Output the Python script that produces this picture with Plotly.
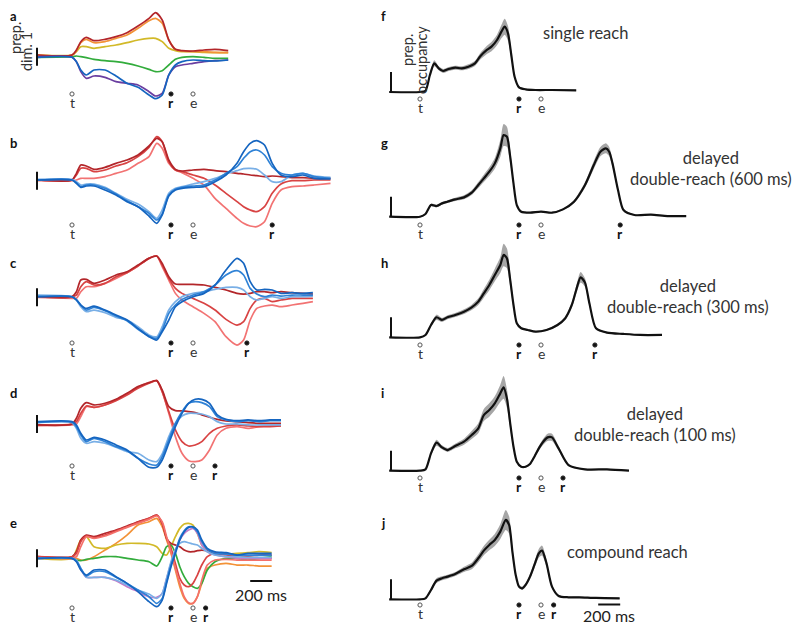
import plotly.graph_objects as go

PAGE_OFFSET = 8           # default body margin of the html page
W, H = 792, 617           # figure size that fills the 800 x 625 window
PX_PER_MS = 0.11          # horizontal scale: 200 ms = 22 px
PX_PER_UNIT = 10 / 3      # vertical scale of the a.u. values below
FONT = "Lato"

# ------------------------------------------------------------
# event times (ms from target onset)
# ------------------------------------------------------------
T_TARGET = 0
T_REACH = 900
T_END = 1100
T_REACH2 = {"600": 1820, "300": 1590, "100": 1300, "compound": 1215}

# ------------------------------------------------------------
# left column: projections on prep. dim. 1 (a.u.)
# ------------------------------------------------------------
t_a = [-310, 0, 40, 80, 130, 200, 300, 400, 500, 600, 700, 760, 820, 880, 940, 1000, 1100, 1200, 1300, 1420]
a_darkred = [0.3, 0.3, 1.8, 4.3, 5.6, 4.6, 5.0, 5.8, 7.0, 9.0, 11.3, 13.0, 10.8, 4.8, 2.0, 1.6, 1.5, 1.8, 2.0, 1.6]
a_orange = [0.3, 0.2, 1.6, 4.0, 5.0, 4.0, 4.3, 5.3, 6.3, 8.3, 10.6, 11.3, 9.8, 4.8, 2.0, 1.5, 1.3, 1.3, 1.1, 1.0]
a_yellow = [0.3, 0.3, 1.3, 2.8, 2.8, 2.3, 2.8, 3.3, 4.0, 4.8, 5.3, 5.3, 4.3, 2.3, 1.6, 1.3, 1.3, 1.1, 1.0, 1.0]
a_green = [-0.4, -0.2, 0, -0.2, -0.5, -1.0, -1.4, -1.7, -2.2, -3.0, -4.0, -4.7, -4.4, -2.7, -1.0, -0.4, -0.2, -0.4, -0.7, -0.7]
a_purple = [-0.2, -0.4, -1.7, -4.7, -6.7, -6.0, -6.4, -7.7, -8.2, -8.7, -10.7, -12.0, -11.2, -5.7, -3.2, -2.7, -2.2, -1.7, -1.4, -1.2]
a_blue = [-0.4, -0.4, -1.7, -4.2, -5.7, -4.2, -4.2, -6.0, -8.2, -9.4, -11.7, -12.8, -11.7, -5.7, -2.7, -1.7, -1.2, -1.4, -1.5, -1.2]

t_b = [-310, 0, 40, 80, 130, 200, 300, 400, 500, 600, 700, 770, 820, 880, 940, 1000, 1100, 1200, 1300, 1400,
       1500, 1560, 1620, 1680, 1750, 1820, 1900, 2000, 2100, 2200, 2350]
b_darkred = [0, 0, 2.0, 4.5, 4.2, 3.2, 3.8, 5.0, 6.0, 7.5, 10.2, 12.5, 11.5, 6.0, 3.2, 2.7, 3.0, 3.2, 2.8, 2.5,
             2.0, 1.8, 1.5, 1.3, 1.0, 1.2, 1.0, 0.7, 0.7, 0.5, 0.5]
b_red = [0, 0, 1.5, 3.5, 3.5, 2.5, 3.0, 4.2, 5.2, 7.0, 9.8, 13.0, 11.5, 5.5, 3.0, 2.5, 1.5, 0.5, -1.5, -4.0,
         -6.5, -8.0, -9.0, -9.5, -8.0, -4.0, -1.2, -0.2, -0.2, 0, 0]
b_lightred = [-0.2, -0.2, 0, 0.5, 0.5, 0.5, 1.0, 2.0, 3.0, 5.0, 7.0, 11.0, 9.5, 5.0, 3.0, 2.2, 0.5, -1.5, -5.5, -8.5,
              -11.5, -13.0, -13.8, -14.0, -12.5, -7.0, -3.0, -2.0, -1.8, -1.5, -1.0]
b_darkblue = [0, 0, -1.0, -2.2, -1.8, -1.8, -3.0, -4.5, -6.5, -8.0, -10.8, -13.0, -10.5, -4.8, -3.0, -2.5, -2.2, -2.0, -0.5, 1.5,
              5.0, 8.5, 11.0, 11.8, 10.5, 5.0, 1.5, 1.0, 1.5, 0.5, 0.3]
b_blue = [0, 0, -0.8, -2.0, -1.5, -1.5, -2.5, -4.2, -6.2, -8.0, -10.0, -12.0, -10.2, -4.5, -2.8, -2.2, -1.8, -1.5, 0, 2.0,
          4.0, 6.5, 8.5, 9.0, 7.5, 4.0, 2.0, 1.5, 2.0, 1.0, 0.5]
b_lightblue = [0.2, 0.2, -0.5, -1.5, -1.2, -1.2, -2.2, -4.0, -5.8, -7.2, -9.5, -11.5, -9.0, -4.0, -2.5, -2.0, -1.2, -0.5, 0.5, 1.8,
               2.8, 3.4, 3.5, 3.2, 1.5, -0.5, -0.5, 1.5, 2.0, 1.2, 0.8]

t_c = [-310, 0, 40, 80, 130, 200, 300, 400, 500, 600, 700, 770, 820, 880, 940, 1000, 1100, 1200, 1300, 1400,
       1500, 1560, 1620, 1680, 1750, 1820, 1900, 2000, 2100, 2190]
c_darkred = [0, 0, 1.5, 5.0, 5.2, 4.0, 5.0, 6.5, 7.5, 9.5, 11.5, 12.2, 10.0, 6.0, 3.8, 3.7, 3.7, 3.5, 2.8, 2.0,
             1.0, 0.8, 1.0, 1.5, 1.5, 1.2, 1.5, 1.2, 1.0, 0.8]
c_red = [0, 0, 0.5, 3.0, 4.5, 3.5, 4.0, 6.0, 7.2, 9.2, 11.5, 12.2, 9.5, 5.5, 2.5, 1.0, -0.5, -2.0, -4.0, -6.8,
         -8.5, -7.5, -3.5, -1.0, -0.5, -1.5, -1.0, -0.5, -0.5, -0.5]
c_lightred = [-0.2, -0.5, -0.5, 1.5, 3.0, 3.0, 4.0, 5.5, 7.2, 9.2, 11.5, 12.2, 9.0, 5.0, 1.0, -1.0, -3.0, -5.0, -7.5, -12.0,
              -14.5, -13.0, -7.0, -3.5, -2.8, -2.5, -3.0, -2.5, -2.0, -1.5]
c_darkblue = [0, 0, -1.0, -2.5, -3.5, -2.8, -4.0, -5.5, -7.0, -9.5, -12.0, -13.0, -10.5, -7.0, -3.0, -1.5, 0, 1.0, 3.5, 8.0,
              11.5, 10.0, 4.5, 2.0, 2.2, 2.0, 1.0, 1.2, 1.0, 1.2]
c_blue = [0, 0, -0.8, -2.5, -4.0, -3.2, -4.2, -5.8, -7.2, -9.8, -11.8, -12.5, -10.0, -5.0, -2.5, -0.8, 0.5, 1.5, 3.5, 6.5,
          7.8, 6.5, 2.5, 0.8, 0, 0.5, 0.2, 0.5, 0.5, 0.5]
c_lightblue = [0.5, 0, -1.0, -3.0, -4.5, -4.0, -4.8, -6.2, -7.0, -9.0, -11.5, -12.0, -9.0, -4.0, -1.5, 0, 1.0, 1.5, 2.2, 2.8,
               2.8, 2.0, 0, -1.0, -0.5, 0, -0.5, 0, 0, 0.2]

t_d = [-310, 0, 40, 80, 130, 200, 300, 400, 500, 600, 700, 770, 820, 880, 940, 1000, 1060, 1120, 1180, 1250,
       1320, 1400, 1500, 1600, 1700, 1800, 1900]
d_darkred = [-0.5, -0.2, 1.5, 4.5, 6.2, 5.5, 6.0, 7.2, 9.0, 11.0, 12.2, 12.8, 10.0, 5.0, 3.8, 3.7, 3.5, 3.2, 2.5, 1.8,
             1.2, 0.7, 0.5, 0.2, 0, 0, 0]
d_red = [-0.5, -0.2, 0.5, 3.0, 5.2, 4.8, 5.5, 6.8, 8.5, 10.5, 12.0, 12.8, 9.5, 3.5, -2.0, -5.5, -6.8, -6.5, -5.5, -3.0,
         -1.5, -0.8, -0.5, -0.8, -1.0, -1.0, -0.8]
d_lightred = [-0.7, -0.5, -0.2, 2.0, 5.0, 4.8, 5.5, 7.0, 8.8, 10.8, 12.2, 12.8, 9.5, 3.0, -4.0, -9.0, -11.2, -11.5, -11.0, -8.0,
              -3.5, -1.5, -1.0, -1.5, -1.0, -0.8, -0.8]
d_darkblue = [0.5, 0.5, -0.5, -3.0, -5.0, -4.2, -5.0, -6.5, -8.0, -10.5, -13.2, -13.2, -11.0, -6.0, -1.0, 3.0, 6.0, 7.2, 7.2, 6.0,
              2.5, 1.2, 0.8, 1.0, 0.8, 1.0, 1.0]
d_blue = [0.3, 0.3, -1.0, -3.5, -5.5, -4.5, -5.5, -7.0, -8.2, -10.5, -12.2, -12.5, -10.0, -5.0, 0, 3.5, 6.0, 6.5, 6.2, 5.0,
          2.0, 1.0, 0.5, 0.8, 0.5, 0.8, 0.8]
d_lightblue = [0.2, 0.2, -1.5, -4.5, -6.0, -5.5, -6.0, -7.2, -8.5, -9.0, -11.0, -11.5, -9.2, -4.0, 0, 2.2, 3.0, 3.0, 2.8, 2.0,
               0.5, -0.2, -0.2, -0.5, -0.5, -0.5, -0.5]

t_e = [-310, 0, 40, 80, 130, 200, 300, 400, 500, 600, 700, 770, 820, 860, 900, 940, 980, 1020, 1060, 1100,
       1140, 1180, 1230, 1300, 1400, 1500, 1600, 1700, 1815]
e_darkred = [0.3, 0.3, 1.8, 5.3, 6.8, 6.3, 7.3, 8.3, 9.5, 10.8, 11.8, 12.8, 10.3, 5.8, 4.3, 3.8, 3.3, 2.3, 1.8, 1.8,
             2.1, 2.3, 2.1, 1.5, 1.1, 0.8, 0.5, 0.8, 0.8]
e_red = [0.3, 0.3, 1.3, 4.8, 6.5, 6.0, 6.8, 8.1, 9.3, 10.6, 11.8, 12.8, 10.3, 5.8, 2.8, -1.7, -6.2, -8.2, -8.7, -7.7,
         -5.2, -2.2, 0.3, 1.3, 0.8, 0.5, 0.1, -0.2, -0.2]
e_salmon = [0, -0.2, 0.3, 3.3, 6.3, 5.8, 6.5, 7.8, 9.1, 10.3, 11.5, 12.5, 10.8, 6.3, 1.8, -3.2, -7.7, -11.7, -13.5, -13.7,
            -11.7, -6.7, -2.2, -0.7, -0.5, -0.7, -0.7, -0.7, -0.7]
e_orange = [-0.2, -0.2, -0.2, -0.7, -0.7, 0.3, 2.3, 4.3, 6.8, 9.8, 10.8, 11.8, 9.3, 5.3, 1.3, -3.7, -8.7, -12.2, -13.7, -13.7,
            -11.7, -7.7, -3.2, -2.2, -1.7, -2.2, -2.2, -2.5, -2.5]
e_yellow = [-0.2, -0.2, 2.3, 5.3, 6.3, 3.3, 2.8, 3.8, 4.3, 4.3, 4.1, 3.3, 1.3, 0.8, 3.3, 6.3, 8.8, 10.1, 10.3, 9.8,
            7.3, 3.8, 2.3, 1.3, 1.1, 1.3, 1.5, 1.8, 1.5]
e_green = [-0.2, -0.2, -0.7, -0.9, -0.5, -0.2, 0.3, 0.3, -0.2, -0.7, -1.2, -2.5, 0.3, 3.3, 3.8, 1.3, -2.7, -5.7, -7.7, -8.7,
           -9.2, -7.7, -3.7, -1.2, -0.2, -0.2, -0.7, -0.2, 0.3]
e_orchid = [-0.2, -0.2, -0.9, -3.5, -5.9, -5.9, -5.9, -6.9, -8.7, -10.2, -11.7, -11.9, -10.7, -6.2, -1.7, 2.3, 5.3, 7.3, 8.3, 8.8,
            7.3, 3.8, 1.8, 0.8, 0.3, -0.2, -0.2, -0.2, -0.2]
e_lightblue = [-0.2, -0.2, -0.7, -3.2, -5.9, -5.9, -5.9, -6.7, -8.2, -9.7, -10.9, -12.2, -10.7, -6.2, -1.2, 2.3, 4.3, 4.8, 4.5, 4.1,
               3.8, 2.8, 1.8, 0.8, 0.3, 0.3, 0.1, 0.1, 0.1]
e_blue = [-0.2, -0.2, -1.0, -3.2, -5.5, -4.2, -4.2, -5.9, -7.7, -9.7, -11.7, -13.7, -12.2, -7.2, -2.2, 1.8, 5.8, 8.1, 9.3, 9.1,
          7.8, 4.8, 2.5, 1.3, 1.1, 0.8, 0.8, 0.8, 0.8]
e_darkblue = [-0.2, -0.2, -1.2, -3.7, -5.2, -3.7, -3.7, -5.7, -7.7, -10.2, -13.2, -14.7, -12.7, -7.7, -2.7, 1.3, 5.3, 7.8, 9.1, 9.3,
              8.3, 5.3, 2.8, 1.8, 1.5, 0.8, 1.3, 1.3, 1.3]

# ------------------------------------------------------------
# right column: prep. occupancy, mean and s.e.m. (a.u.)
# ------------------------------------------------------------
t_f = [-280, 0, 50, 90, 130, 170, 210, 260, 320, 380, 440, 500, 550, 600, 650, 700, 740, 770, 800, 830,
       860, 900, 960, 1050, 1200, 1420]
f_mean = [0, 0, 0.4, 5.1, 8.6, 7.1, 6.3, 6.9, 7.3, 7.1, 7.6, 8.6, 10.8, 12.4, 13.6, 15.6, 18.1, 19.6, 17.6, 11.1,
          4.6, 1.4, 0.8, 0.6, 0.6, 0.5]
f_sem = [0.1, 0.1, 0.2, 0.6, 0.9, 0.6, 0.6, 0.6, 0.6, 0.6, 0.7, 0.8, 1.0, 1.2, 1.4, 1.6, 2.0, 2.4, 2.2, 1.2,
         0.6, 0.3, 0.2, 0.2, 0.2, 0.2]

t_g = [-280, 0, 50, 100, 150, 200, 250, 320, 400, 470, 530, 580, 630, 680, 730, 760, 790, 820, 850, 880,
       920, 1000, 1100, 1200, 1300, 1400, 1500, 1580, 1640, 1690, 1720, 1750, 1800, 1850, 1950, 2100, 2250, 2420]
g_mean = [0, 0, 0.8, 3.5, 3.2, 4.0, 4.5, 5.2, 5.8, 7.2, 9.5, 11.5, 13.5, 16.0, 20.5, 24.5, 24.0, 18.0, 10.0, 3.5,
          1.5, 1.2, 1.5, 1.2, 2.2, 4.5, 9.5, 15.5, 19.5, 20.5, 19.5, 16.0, 8.0, 2.0, 0.5, 0.6, 0.2, 0.2]
g_sem = [0.1, 0.1, 0.2, 0.4, 0.4, 0.4, 0.4, 0.5, 0.6, 0.7, 0.9, 1.1, 1.3, 1.6, 2.5, 3.3, 3.0, 2.0, 0.8, 0.3,
         0.2, 0.2, 0.2, 0.2, 0.3, 0.5, 0.8, 1.2, 1.4, 1.5, 1.4, 1.1, 0.6, 0.3, 0.2, 0.2, 0.2, 0.2]

t_h = [-280, 0, 50, 100, 150, 200, 250, 320, 400, 470, 530, 580, 630, 680, 730, 760, 790, 820, 850, 880,
       920, 980, 1050, 1150, 1250, 1320, 1380, 1420, 1460, 1500, 1540, 1600, 1700, 1850, 2000, 2200]
h_mean = [0, 0, 0.7, 3.7, 6.0, 5.2, 6.0, 6.7, 7.7, 9.0, 10.7, 13.2, 15.7, 18.7, 21.7, 24.7, 23.7, 17.2, 9.7, 4.2,
          2.7, 2.2, 1.7, 2.2, 3.7, 5.7, 9.7, 14.2, 18.0, 16.4, 10.2, 2.7, 1.4, 1.0, 0.7, 0.7]
h_sem = [0.1, 0.1, 0.2, 0.5, 0.8, 0.6, 0.6, 0.6, 0.7, 0.8, 1.0, 1.3, 1.6, 1.9, 2.4, 3.4, 3.0, 2.0, 0.9, 0.4,
         0.3, 0.2, 0.2, 0.3, 0.4, 0.6, 0.9, 1.2, 1.6, 1.3, 0.8, 0.3, 0.2, 0.2, 0.2, 0.2]

t_i = [-280, 0, 50, 100, 150, 200, 250, 320, 400, 470, 530, 580, 630, 680, 730, 760, 790, 820, 850, 880,
       920, 960, 1000, 1040, 1080, 1120, 1160, 1200, 1260, 1350, 1500, 1700, 1900]
i_mean = [0, 0, 0.4, 5.2, 8.4, 7.0, 6.2, 7.4, 8.7, 10.7, 12.7, 16.7, 18.2, 20.2, 23.2, 25.0, 21.7, 14.2, 7.2, 2.7,
          1.2, 1.2, 2.0, 4.2, 6.7, 8.7, 10.0, 10.0, 6.7, 1.7, 0.4, 0.4, 0]
i_sem = [0.1, 0.1, 0.2, 0.6, 0.9, 0.6, 0.6, 0.7, 0.9, 1.2, 1.5, 1.8, 2.0, 2.1, 2.6, 3.4, 2.8, 1.6, 0.8, 0.4,
         0.3, 0.3, 0.3, 0.5, 0.7, 0.9, 1.1, 1.1, 0.7, 0.3, 0.2, 0.2, 0.2]

t_j = [-280, 0, 50, 100, 150, 200, 250, 320, 400, 470, 530, 580, 630, 680, 730, 780, 810, 840, 870, 900,
       930, 960, 1000, 1040, 1080, 1110, 1150, 1200, 1260, 1350, 1450, 1600, 1815]
j_mean = [0, 0, 0.3, 2.8, 5.6, 6.3, 6.8, 7.6, 9.0, 10.0, 12.3, 14.6, 16.3, 17.8, 20.3, 23.8, 22.3, 14.3, 7.3, 3.8,
          3.3, 4.3, 6.8, 10.3, 13.8, 14.6, 10.8, 3.8, 1.0, 0.6, 0.6, 0.4, 0.3]
j_sem = [0.1, 0.1, 0.2, 0.5, 0.7, 0.6, 0.6, 0.6, 0.8, 1.0, 1.2, 1.4, 1.6, 1.8, 2.2, 3.0, 2.6, 1.5, 0.7, 0.5,
         0.5, 0.6, 0.8, 1.0, 1.3, 1.5, 1.1, 0.5, 0.2, 0.2, 0.2, 0.2, 0.2]

COLORS = {
    "darkred": "#b3262a", "red": "#d84343", "lightred": "#f27373", "salmon": "#f4706a",
    "orange": "#f39237", "yellow": "#d2b928", "green": "#32ac3c", "purple": "#6a3ea0",
    "orchid": "#c57ac8", "darkblue": "#1565c0", "blue": "#2f82d6", "lightblue": "#79afe6",
}

# ------------------------------------------------------------
# panel layout (pixel positions in the 800 x 625 window)
# ------------------------------------------------------------
LEFT = dict(x0=30, x1=345, t0=72)
RIGHT = dict(x0=385, x1=720, t0=420)

left_panels = [
    dict(label="a", top=9, bottom=108, base=56, ev_y=94, label_y=16,
         events=[T_TARGET, T_REACH, T_END],
         lines=[(t_a, a_yellow, "yellow"), (t_a, a_green, "green"), (t_a, a_orange, "orange"),
                (t_a, a_darkred, "darkred"), (t_a, a_purple, "purple"), (t_a, a_blue, "darkblue")]),
    dict(label="b", top=120, bottom=240, base=180, ev_y=225, label_y=143,
         events=[T_TARGET, T_REACH, T_END, T_REACH2["600"]],
         lines=[(t_b, b_lightred, "lightred"), (t_b, b_red, "red"), (t_b, b_darkred, "darkred"),
                (t_b, b_lightblue, "lightblue"), (t_b, b_blue, "blue"), (t_b, b_darkblue, "darkblue")]),
    dict(label="c", top=245, bottom=360, base=296.7, ev_y=343, label_y=263,
         events=[T_TARGET, T_REACH, T_END, T_REACH2["300"]],
         lines=[(t_c, c_lightred, "lightred"), (t_c, c_red, "red"), (t_c, c_darkred, "darkred"),
                (t_c, c_lightblue, "lightblue"), (t_c, c_blue, "blue"), (t_c, c_darkblue, "darkblue")]),
    dict(label="d", top=370, bottom=485, base=423.3, ev_y=466, label_y=393,
         events=[T_TARGET, T_REACH, T_END, T_REACH2["100"]],
         lines=[(t_d, d_lightred, "lightred"), (t_d, d_red, "red"), (t_d, d_darkred, "darkred"),
                (t_d, d_lightblue, "lightblue"), (t_d, d_blue, "blue"), (t_d, d_darkblue, "darkblue")]),
    dict(label="e", top=495, bottom=622, base=557.7, ev_y=608, label_y=523,
         events=[T_TARGET, T_REACH, T_END, T_REACH2["compound"]],
         lines=[(t_e, e_orange, "orange"), (t_e, e_yellow, "yellow"), (t_e, e_green, "green"),
                (t_e, e_darkred, "darkred"), (t_e, e_red, "red"), (t_e, e_salmon, "salmon"),
                (t_e, e_orchid, "orchid"), (t_e, e_lightblue, "lightblue"), (t_e, e_blue, "blue"),
                (t_e, e_darkblue, "darkblue")]),
]

right_panels = [
    dict(label="f", top=9, bottom=112, base=92, ev_y=99, label_y=16,
         events=[T_TARGET, T_REACH, T_END], t=t_f, mean=f_mean, sem=f_sem,
         text="single reach", text_xy=(585, 33)),
    dict(label="g", top=115, bottom=240, base=216.7, ev_y=225, label_y=143,
         events=[T_TARGET, T_REACH, T_END, T_REACH2["600"]], t=t_g, mean=g_mean, sem=g_sem,
         text="delayed<br>double-reach (600 ms)", text_xy=(711, 168)),
    dict(label="h", top=240, bottom=360, base=337.3, ev_y=345, label_y=263,
         events=[T_TARGET, T_REACH, T_END, T_REACH2["300"]], t=t_h, mean=h_mean, sem=h_sem,
         text="delayed<br>double-reach (300 ms)", text_xy=(688, 296)),
    dict(label="i", top=365, bottom=490, base=470.7, ev_y=478, label_y=393,
         events=[T_TARGET, T_REACH, T_END, T_REACH2["100"]], t=t_i, mean=i_mean, sem=i_sem,
         text="delayed<br>double-reach (100 ms)", text_xy=(655, 424)),
    dict(label="j", top=495, bottom=622, base=599.3, ev_y=605, label_y=523,
         events=[T_TARGET, T_REACH, T_END, T_REACH2["compound"]], t=t_j, mean=j_mean, sem=j_sem,
         text="compound reach", text_xy=(627, 552)),
]

EVENT_LETTERS = {T_TARGET: "t", T_REACH: "r", T_END: "e"}

fig = go.Figure()
layout_axes = {}
shapes = []
annotations = []


def px(p):
    return (p - PAGE_OFFSET) / W


def py(p):
    return 1 - (p - PAGE_OFFSET) / H


def setup_axes(n, col, p):
    sfx = "" if n == 1 else str(n)
    layout_axes["xaxis" + sfx] = dict(
        domain=[px(col["x0"]), px(col["x1"])],
        range=[(col["x0"] - col["t0"]) / PX_PER_MS, (col["x1"] - col["t0"]) / PX_PER_MS],
        visible=False, anchor="y" + sfx, fixedrange=True,
    )
    layout_axes["yaxis" + sfx] = dict(
        domain=[py(p["bottom"]), py(p["top"])],
        range=[-(p["bottom"] - p["base"]) / PX_PER_UNIT, (p["base"] - p["top"]) / PX_PER_UNIT],
        visible=False, anchor="x" + sfx, fixedrange=True,
    )
    return "x" + sfx, "y" + sfx


def add_events(xa, p):
    for ev in p["events"]:
        letter = EVENT_LETTERS.get(ev, "r")
        filled = letter == "r"
        shapes.append(dict(
            type="circle", xref=xa, yref="paper", xsizemode="pixel", ysizemode="pixel",
            xanchor=ev, yanchor=py(p["ev_y"]), x0=-2.1, x1=2.1, y0=-2.1, y1=2.1,
            line=dict(color="#222" if filled else "#555", width=1),
            fillcolor="#111" if filled else "white",
        ))
        annotations.append(dict(
            x=ev, xref=xa, y=py(p["ev_y"] + 8.5), yref="paper", showarrow=False,
            text="<b>r</b>" if filled else letter, xanchor="center", yanchor="middle",
            font=dict(family=FONT, size=14, color="#111" if filled else "#333"),
        ))


def add_label(letter, x, y):
    annotations.append(dict(
        x=px(x), y=py(y), xref="paper", yref="paper", showarrow=False, text=f"<b>{letter}</b>",
        xanchor="left", yanchor="middle", font=dict(family=FONT, size=13, color="#111"),
    ))


n = 0
for p in left_panels:
    n += 1
    xa, ya = setup_axes(n, LEFT, p)
    for t, v, c in p["lines"]:
        fig.add_trace(go.Scatter(
            x=t, y=v, mode="lines", xaxis=xa, yaxis=ya, hoverinfo="skip",
            line=dict(color=COLORS[c], width=1.7, shape="spline", smoothing=0.7),
        ))
    # vertical scale bar
    shapes.append(dict(type="line", xref="paper", yref=ya, x0=px(37), x1=px(37), y0=-2.9, y1=2.5,
                       line=dict(color="#111", width=2)))
    add_events(xa, p)
    add_label(p["label"], 8, p["label_y"])

for p in right_panels:
    n += 1
    xa, ya = setup_axes(n, RIGHT, p)
    upper = [m + s for m, s in zip(p["mean"], p["sem"])]
    lower = [m - s for m, s in zip(p["mean"], p["sem"])]
    fig.add_trace(go.Scatter(x=p["t"], y=upper, mode="lines", xaxis=xa, yaxis=ya, hoverinfo="skip",
                             line=dict(width=0, shape="spline", smoothing=0.7, color="rgba(0,0,0,0)")))
    fig.add_trace(go.Scatter(x=p["t"], y=lower, mode="lines", xaxis=xa, yaxis=ya, hoverinfo="skip",
                             fill="tonexty", fillcolor="rgba(150,150,150,0.85)",
                             line=dict(width=0, shape="spline", smoothing=0.7, color="rgba(0,0,0,0)")))
    fig.add_trace(go.Scatter(x=p["t"], y=p["mean"], mode="lines", xaxis=xa, yaxis=ya, hoverinfo="skip",
                             line=dict(color="#111", width=2.2, shape="spline", smoothing=0.7)))
    shapes.append(dict(type="line", xref="paper", yref=ya, x0=px(391), x1=px(391), y0=0, y1=6,
                       line=dict(color="#111", width=2)))
    add_events(xa, p)
    add_label(p["label"], 379, p["label_y"])
    tx, ty = p["text_xy"]
    annotations.append(dict(
        x=px(tx), y=py(ty), xref="paper", yref="paper", showarrow=False, text=p["text"],
        xanchor="center", yanchor="middle", align="center",
        font=dict(family=FONT, size=16.5, color="#333"),
    ))

# time scale bars (200 ms)
for xa, bar_y, txt_y in (("x5", 581, 594), ("x10", 604.5, 615)):
    shapes.append(dict(type="line", xref=xa, yref="paper", x0=1620, x1=1820, y0=py(bar_y), y1=py(bar_y),
                       line=dict(color="#111", width=2)))
    annotations.append(dict(x=1720, xref=xa, y=py(txt_y), yref="paper", showarrow=False, text="200 ms",
                            xanchor="center", yanchor="middle", font=dict(family=FONT, size=16, color="#222")))

# y-axis descriptions
for txt, x, y in (("prep.", 16, 38), ("dim. 1", 26, 52), ("prep.", 408, 50), ("occupancy", 422, 60)):
    annotations.append(dict(x=px(x), y=py(y), xref="paper", yref="paper", showarrow=False, text=txt,
                            textangle=-90, xanchor="center", yanchor="middle",
                            font=dict(family=FONT, size=14.5, color="#333")))

fig.update_layout(
    width=W, height=H,
    margin=dict(l=0, r=0, t=0, b=0),
    paper_bgcolor="white", plot_bgcolor="white",
    showlegend=False,
    shapes=shapes, annotations=annotations,
    **layout_axes,
)

fig.write_html("out.html")
